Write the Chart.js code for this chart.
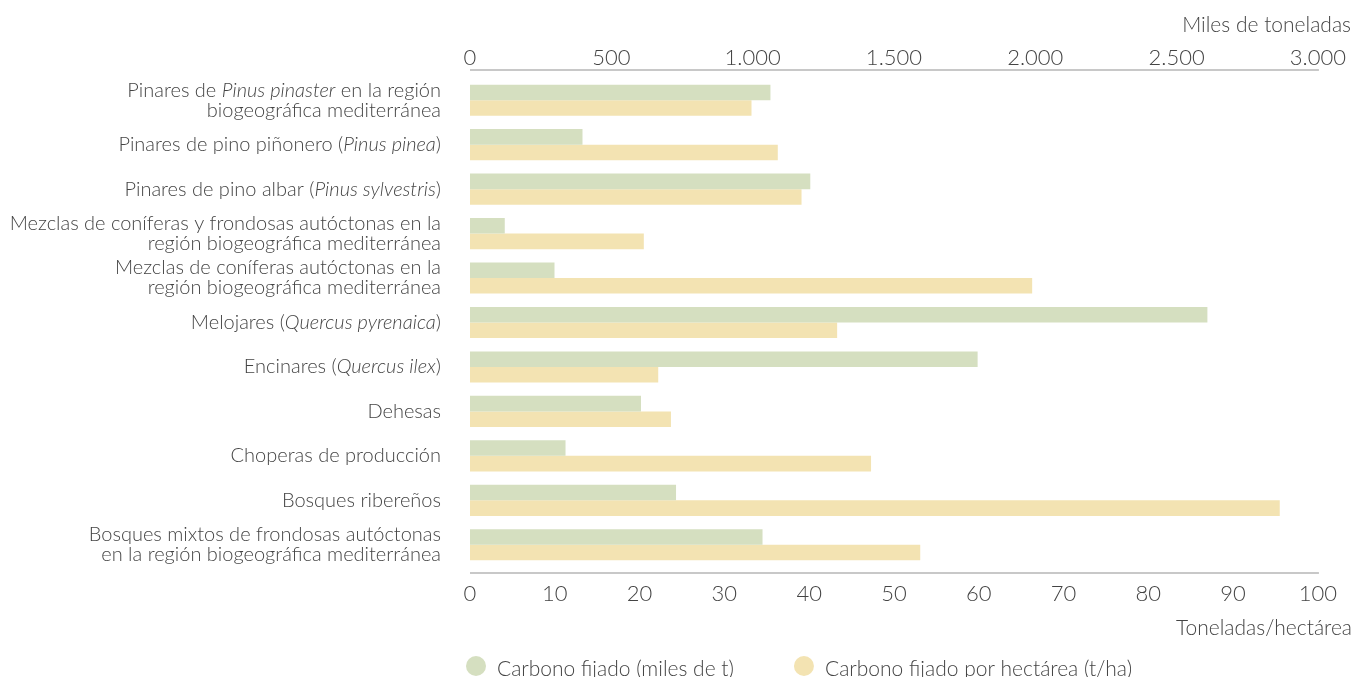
<!DOCTYPE html>
<html>
<head>
<meta charset="utf-8">
<script src="https://cdn.jsdelivr.net/npm/chart.js@4"></script>
<style>
  html, body { margin: 0; padding: 0; background: #fff; overflow: hidden; }
  #wrap { width: 1353px; height: 677px; position: relative; }
</style>
</head>
<body>
<div id="wrap"><canvas id="chart"></canvas></div>
<script>
// text between * * is drawn in italics
const categories = [
  ['Pinares de *Pinus pinaster* en la región', 'biogeográfica mediterránea'],
  ['Pinares de pino piñonero (*Pinus pinea*)'],
  ['Pinares de pino albar (*Pinus sylvestris*)'],
  ['Mezclas de coníferas y frondosas autóctonas en la', 'región biogeográfica mediterránea'],
  ['Mezclas de coníferas autóctonas en la', 'región biogeográfica mediterránea'],
  ['Melojares (*Quercus pyrenaica*)'],
  ['Encinares (*Quercus ilex*)'],
  ['Dehesas'],
  ['Choperas de producción'],
  ['Bosques ribereños'],
  ['Bosques mixtos de frondosas autóctonas', 'en la región biogeográfica mediterránea']
];
const carbonoMiles = [1063, 398, 1204, 123, 299, 2609, 1796, 605, 338, 729, 1035];
const carbonoHa = [33.2, 36.3, 39.1, 20.5, 66.3, 43.3, 22.2, 23.7, 47.3, 95.5, 53.1];
const seriesNames = ['Carbono fijado (miles de t)', 'Carbono fijado por hectárea (t/ha)'];
const topTicks = ['0', '500', '1.000', '1.500', '2.000', '2.500', '3.000'];
const bottomTicks = ['0', '10', '20', '30', '40', '50', '60', '70', '80', '90', '100'];
const topTitle = 'Miles de toneladas';
const bottomTitle = 'Toneladas/hectárea';

const GREEN = '#d5dfc0';
const YELLOW = '#f3e3b2';
const TEXT = '#444444';
const FONT = 'Lato, "Open Sans", sans-serif';

function drawMixed(ctx, line, right, y) {
  const parts = line.split('*');
  const fonts = parts.map((p, i) => (i % 2 ? 'italic 300 20px ' : '300 20px ') + FONT);
  let total = 0;
  parts.forEach((p, i) => { ctx.font = fonts[i]; total += ctx.measureText(p).width; });
  let x = right - total;
  ctx.textAlign = 'left';
  parts.forEach((p, i) => {
    ctx.font = fonts[i];
    ctx.fillText(p, x, y);
    x += ctx.measureText(p).width;
  });
}

const extras = {
  id: 'extras',
  afterDraw(chart) {
    const { ctx, chartArea: a, scales } = chart;
    ctx.save();

    // axis lines sit a little outside the bar bands
    ctx.strokeStyle = '#c8c8c8';
    ctx.lineWidth = 2;
    ctx.beginPath();
    ctx.moveTo(a.left, a.top - 8); ctx.lineTo(a.right + 1, a.top - 8);
    ctx.moveTo(a.left, a.bottom + 6); ctx.lineTo(a.right + 1, a.bottom + 6);
    ctx.stroke();

    // category labels
    ctx.fillStyle = TEXT;
    ctx.textBaseline = 'middle';
    categories.forEach((lines, i) => {
      const yc = scales.y.getPixelForTick(i);
      lines.forEach((line, j) => {
        drawMixed(ctx, line, a.left - 29, yc + (j - (lines.length - 1) / 2) * 20);
      });
    });

    // axis titles
    ctx.font = '300 21px ' + FONT;
    ctx.textAlign = 'right';
    ctx.fillText(topTitle, chart.width - 2, 25);
    ctx.fillText(bottomTitle, chart.width - 1, 628);

    // legend, cut by the bottom edge like the original
    let x = a.left - 4;
    chart.data.datasets.forEach(ds => {
      ctx.fillStyle = ds.backgroundColor;
      ctx.beginPath();
      ctx.arc(x + 10, 666, 10, 0, Math.PI * 2);
      ctx.fill();
      ctx.fillStyle = TEXT;
      ctx.textAlign = 'left';
      ctx.fillText(ds.label, x + 31, 669);
      x += 31 + ctx.measureText(ds.label).width + 60;
    });

    ctx.restore();
  }
};

const tickFont = { family: FONT, size: 22, weight: 300 };

new Chart(document.getElementById('chart'), {
  type: 'bar',
  data: {
    labels: categories.map(c => c.join(' ').replace(/\*/g, '')),
    datasets: [
      { label: seriesNames[0], data: carbonoMiles, xAxisID: 'x1', backgroundColor: GREEN },
      { label: seriesNames[1], data: carbonoHa, xAxisID: 'x', backgroundColor: YELLOW }
    ]
  },
  options: {
    indexAxis: 'y',
    responsive: true,
    maintainAspectRatio: false,
    animation: false,
    categoryPercentage: 0.7,
    barPercentage: 1,
    layout: { padding: { top: 0, left: 0, right: 31, bottom: 0 } },
    plugins: { legend: { display: false }, tooltip: { enabled: false } },
    scales: {
      y: {
        ticks: { display: false },
        grid: { display: false },
        border: { display: false },
        afterFit(scale) { scale.width = 470; }
      },
      x1: {
        position: 'top',
        min: 0, max: 3000,
        grid: { display: false, drawTicks: false },
        border: { display: false },
        ticks: {
          stepSize: 500, padding: 7, color: TEXT, font: tickFont,
          autoSkip: false, maxRotation: 0,
          callback: (v, i) => topTicks[i]
        },
        afterFit(scale) { scale.height = 78; }
      },
      x: {
        position: 'bottom',
        min: 0, max: 100,
        grid: { display: false, drawTicks: false },
        border: { display: false },
        ticks: {
          stepSize: 10, padding: 14, color: TEXT, font: tickFont,
          autoSkip: false, maxRotation: 0,
          callback: (v, i) => bottomTicks[i]
        },
        afterFit(scale) { scale.height = 110; }
      }
    }
  },
  plugins: [extras]
});
</script>
</body>
</html>
